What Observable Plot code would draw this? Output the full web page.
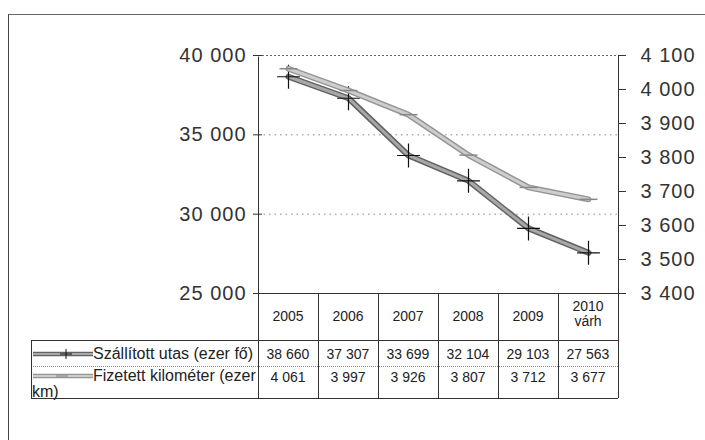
<!DOCTYPE html>
<html>
<head>
<meta charset="utf-8">
<script src="https://cdn.jsdelivr.net/npm/d3@7"></script>
<script src="https://cdn.jsdelivr.net/npm/@observablehq/plot@0.6"></script>
<style>
  body { margin: 0; background: #fff; }
  #wrap { position: relative; width: 705px; height: 440px; overflow: hidden; background: #fff;
          font-family: "Liberation Sans", Arial, sans-serif; color: #222; }
  #frame { position: absolute; left: 8px; top: 14px; width: 720px; height: 440px;
           border-left: 1px solid #444; border-top: 1px solid #666; }
  #chart { position: absolute; left: 0; top: 0; }
  #chart text { letter-spacing: 1px; }
  .line { position: absolute; }
  .cell { position: absolute; box-sizing: border-box; font-size: 14px; line-height: 15px;
          text-align: center; color: #222; letter-spacing: 0px; }
  .legend { text-align: left; font-size: 16px; line-height: 16px; letter-spacing: 0px; padding-left: 1px; }
  .legend svg { vertical-align: -1px; }
</style>
</head>
<body>
<div id="wrap">
  <div id="frame"></div>
  <div id="chart"></div>
  <div id="table"></div>
</div>
<script>
// Years shown as categories and as the header row of the data table
const years = ["2005", "2006", "2007", "2008", "2009", "2010"];
const yearLabels = ["2005", "2006", "2007", "2008", "2009", "2010<br>várh"];

// Series values
const utas = [38660, 37307, 33699, 32104, 29103, 27563];   // Szállított utas (ezer fő), left axis
const km = [4061, 3997, 3926, 3807, 3712, 3677];           // Fizetett kilométer (ezer km), right axis
const seriesNames = ["Szállított utas (ezer fő)", "Fizetett kilométer (ezer km)"];

// Axis ticks
const leftTicks = [25000, 30000, 35000, 40000];
const rightTicks = [3400, 3500, 3600, 3700, 3800, 3900, 4000, 4100];
const gridTicks = [30000, 35000];

// Hungarian number format: space as thousands separator
const fmt = d3.formatLocale({decimal: ",", thousands: " ", grouping: [3], currency: ["", ""]}).format(",");

// Secondary axis is mapped onto the primary one
const toLeft = d3.scaleLinear([3400, 4100], [25000, 40000]);

const rows = years.map((year, i) => ({year, utas: utas[i], km: km[i], kmL: toLeft(km[i])}));

// Custom marker shapes: a thin cross and a short dash
const cross = {draw(ctx, size) {
  const r = Math.sqrt(size / Math.PI);
  ctx.moveTo(-r * 0.95, 0); ctx.lineTo(r * 0.95, 0);
  ctx.moveTo(0, -r); ctx.lineTo(0, r);
}};
const dash = {draw(ctx, size) {
  const r = Math.sqrt(size / Math.PI);
  ctx.moveTo(-r, 0); ctx.lineTo(r, 0);
}};

const font = '"Liberation Sans", Arial, sans-serif';

const chart = Plot.plot({
  width: 705,
  height: 300,
  marginLeft: 258,
  marginRight: 87,
  marginTop: 55,
  marginBottom: 7,
  style: {fontFamily: font, background: "transparent", overflow: "visible"},
  x: {type: "point", domain: years, padding: 0.5, axis: null},
  y: {domain: [25000, 40000]},
  marks: [
    Plot.ruleY(gridTicks, {stroke: "#888", strokeDasharray: "1.5,4"}),
    Plot.frame({stroke: "#333"}),
    Plot.ruleY([40000], {stroke: "#fff", strokeWidth: 2}),
    Plot.ruleY([40000], {stroke: "#666", strokeDasharray: "2,2"}),
    Plot.axisY(leftTicks, {anchor: "left", tickSize: 5, tickPadding: 7, tickFormat: fmt,
      fontSize: 20, color: "#333", label: null}),
    Plot.axisY(leftTicks, {anchor: "left", tickSize: -4, text: null, color: "#333", label: null}),
    Plot.axisY(rightTicks.map(toLeft), {anchor: "right", tickSize: 7, tickPadding: 15,
      tickFormat: d => fmt(Math.round(toLeft.invert(d))), fontSize: 20, color: "#333", label: null}),
    // Szállított utas
    Plot.line(rows, {x: "year", y: "utas", stroke: "#626262", strokeWidth: 6}),
    Plot.line(rows, {x: "year", y: "utas", stroke: "#a8a8a8", strokeWidth: 3}),
    Plot.dot(rows, {x: "year", y: "utas", symbol: cross, r: 12, stroke: "#111", strokeWidth: 1.2, fill: "none"}),
    // Fizetett kilométer
    Plot.line(rows, {x: "year", y: "kmL", stroke: "#959595", strokeWidth: 6}),
    Plot.line(rows, {x: "year", y: "kmL", stroke: "#cdcdcd", strokeWidth: 3}),
    Plot.dot(rows, {x: "year", y: "kmL", symbol: dash, r: 9, stroke: "#888", strokeWidth: 1.5, fill: "none"})
  ]
});
document.getElementById("chart").appendChild(chart);

// Data table under the plot, aligned with the x scale
const xs = chart.scale("x");
const [r0, r1] = xs.range;
const step = (r1 - r0) / years.length;
const tableTop = 300 - 7;
const headerBottom = 340;
const rowSplit = 366;
const tableBottom = 398;
const legendLeft = 31;
const table = document.getElementById("table");

function hline(x1, x2, y, style) {
  const d = document.createElement("div");
  d.className = "line";
  Object.assign(d.style, {left: x1 + "px", top: y + "px", width: (x2 - x1) + "px", height: "0", borderTop: style});
  table.appendChild(d);
}
function vline(x, y1, y2, style) {
  const d = document.createElement("div");
  d.className = "line";
  Object.assign(d.style, {left: x + "px", top: y1 + "px", height: (y2 - y1) + "px", width: "0", borderLeft: style});
  table.appendChild(d);
}
function cell(html, x, y, w, h, extraClass, pad) {
  const d = document.createElement("div");
  d.className = "cell" + (extraClass ? " " + extraClass : "");
  Object.assign(d.style, {left: x + "px", top: y + "px", width: w + "px", height: h + "px", paddingTop: pad + "px"});
  d.innerHTML = html;
  table.appendChild(d);
}

const solid = "1px solid #333";
const dotted = "1px dotted #888";

// Grid of the table
hline(legendLeft, r1, headerBottom, solid);
hline(legendLeft, r1, rowSplit, dotted);
hline(legendLeft, r1, tableBottom, solid);
vline(legendLeft, headerBottom, tableBottom, solid);
for (let i = 0; i <= years.length; i++) vline(r0 + i * step, tableTop, tableBottom, solid);

// Header row with years
years.forEach((y, i) => {
  const left = xs.apply(y) - step / 2;
  const two = yearLabels[i].includes("<br>");
  cell(yearLabels[i], left, tableTop, step, headerBottom - tableTop, "", two ? 6 : 16);
});

// Value rows
rows.forEach(d => {
  const left = xs.apply(d.year) - step / 2;
  cell(fmt(d.utas), left, headerBottom, step, rowSplit - headerBottom, "", 7);
  cell(fmt(d.km), left, rowSplit, step, tableBottom - rowSplit, "", 4);
});

// Legend cells with line samples
function sample(i) {
  const outer = i === 0 ? "#626262" : "#959595";
  const inner = i === 0 ? "#a8a8a8" : "#cdcdcd";
  const mark = i === 0
    ? '<path d="M34,1V11M28,6H40" stroke="#111" stroke-width="1"/>'
    : '<path d="M24,6H36" stroke="#888" stroke-width="1.2"/>';
  return `<svg width="61" height="12"><line x1="1" y1="6" x2="61" y2="6" stroke="${outer}" stroke-width="4.5"/>` +
    `<line x1="1" y1="6" x2="61" y2="6" stroke="${inner}" stroke-width="2"/>${mark}</svg>`;
}
cell(sample(0) + seriesNames[0], legendLeft, headerBottom, r0 - legendLeft, rowSplit - headerBottom, "legend", 6);
cell(sample(1) + seriesNames[1], legendLeft, rowSplit, r0 - legendLeft, tableBottom - rowSplit, "legend", 2);
</script>
</body>
</html>
